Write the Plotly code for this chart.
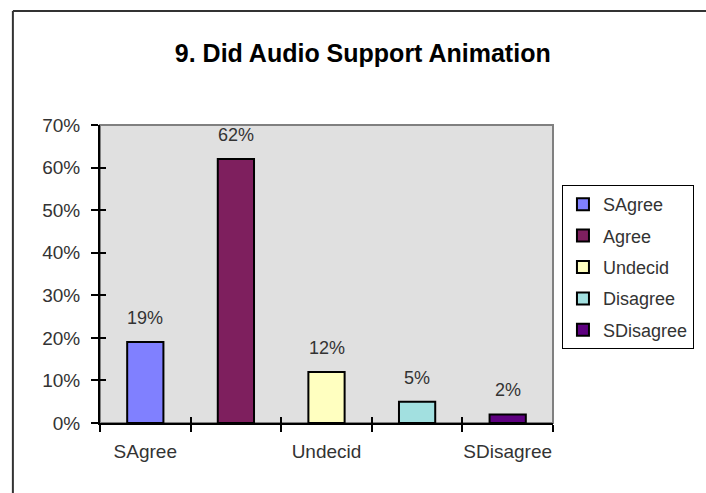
import plotly.graph_objects as go

# Survey question 9 responses
categories = ["SAgree", "Agree", "Undecid", "Disagree", "SDisagree"]
percent = [19, 62, 12, 5, 2]
bar_colors = ["#8080FF", "#7E1F5E", "#FFFFC0", "#A2E0E0", "#5E0080"]
shown_labels = ["SAgree", "Undecid", "SDisagree"]  # every other category is labelled
y_ticks = [0, 10, 20, 30, 40, 50, 60, 70]

FONT = "Arial, 'Liberation Sans', sans-serif"
TEXT_GRAY = "#333333"

pos = list(range(len(categories)))
bounds = [p - 0.5 for p in pos] + [pos[-1] + 0.5]

fig = go.Figure()
for i, (cat, val, col) in enumerate(zip(categories, percent, bar_colors)):
    fig.add_trace(go.Bar(
        x=[pos[i]], y=[val / 100], name=cat, width=0.4,
        marker=dict(color=col, line=dict(color="black", width=2)),
        legendgroup=cat, hoverinfo="skip",
    ))

# helper trace so the overlay axes (cross tick marks) get drawn
fig.add_trace(go.Scatter(x=[None], y=[None], xaxis="x2", yaxis="y2",
                         showlegend=False, hoverinfo="skip"))

# value labels above each bar
for i, val in enumerate(percent):
    fig.add_annotation(x=pos[i], y=val / 100, text=f"{val}%", showarrow=False,
                       yshift=24, font=dict(family=FONT, size=18, color=TEXT_GRAY))

label_pos = [categories.index(c) for c in shown_labels]
yrange = [0, y_ticks[-1] / 100]
xrange = [bounds[0], bounds[-1]]

fig.update_layout(
    width=706, height=493, autosize=False,
    margin=dict(l=100, r=151, t=125, b=70),
    paper_bgcolor="white", plot_bgcolor="#E0E0E0",
    barmode="overlay",
    font=dict(family=FONT, size=18, color=TEXT_GRAY),
    title=dict(text="<b>9. Did Audio Support Animation</b>", x=0.58, xref="paper",
               xanchor="center", y=1 - 53 / 493, yref="container", yanchor="middle",
               font=dict(family=FONT, size=25, color="black")),
    xaxis=dict(range=xrange, tickvals=label_pos, ticktext=shown_labels, ticks="",
               minor=dict(tickvals=bounds, ticks="outside", ticklen=7,
                          tickwidth=1.5, tickcolor="black"),
               showline=True, linecolor="black", linewidth=2,
               showgrid=False, zeroline=False, fixedrange=True,
               tickfont=dict(size=19, color=TEXT_GRAY), ticklabelstandoff=10),
    yaxis=dict(range=yrange, tickvals=[t / 100 for t in y_ticks], tickformat=".0%",
               ticks="outside", ticklen=7, tickwidth=1.5, tickcolor="black",
               showline=True, linecolor="black", linewidth=2,
               showgrid=False, zeroline=False, fixedrange=True,
               tickfont=dict(size=19, color=TEXT_GRAY), ticklabelstandoff=7),
    xaxis2=dict(overlaying="x", anchor="y", range=xrange, tickvals=bounds,
                ticks="inside", ticklen=6, tickwidth=1.5, tickcolor="black",
                showticklabels=False, showline=False, showgrid=False, zeroline=False),
    yaxis2=dict(overlaying="y", anchor="x", side="left", range=yrange,
                tickvals=[t / 100 for t in y_ticks], ticks="inside", ticklen=6,
                tickwidth=1.5, tickcolor="black", showticklabels=False,
                showline=False, showgrid=False, zeroline=False),
    legend=dict(x=(564 - 100) / 455, xanchor="left", y=0.7987, yanchor="top",
                bgcolor="white", bordercolor="black", borderwidth=1,
                tracegroupgap=5, font=dict(family=FONT, size=18, color=TEXT_GRAY)),
    showlegend=True,
)

# gray frame on the top and right of the plot area
fig.add_shape(type="rect", xref="x domain", yref="y domain", x0=0, x1=1, y0=0, y1=1,
              line=dict(color="#808080", width=2), layer="below")
# outer chart border (left and top edges)
fig.add_shape(type="line", xref="paper", yref="paper", x0=-0.1923, x1=1.4,
              y0=1.3826, y1=1.3826, line=dict(color="#333333", width=2))
fig.add_shape(type="line", xref="paper", yref="paper", x0=-0.1923, x1=-0.1923,
              y0=1.3826, y1=-0.3, line=dict(color="#333333", width=2))

fig.write_html("out.html")
